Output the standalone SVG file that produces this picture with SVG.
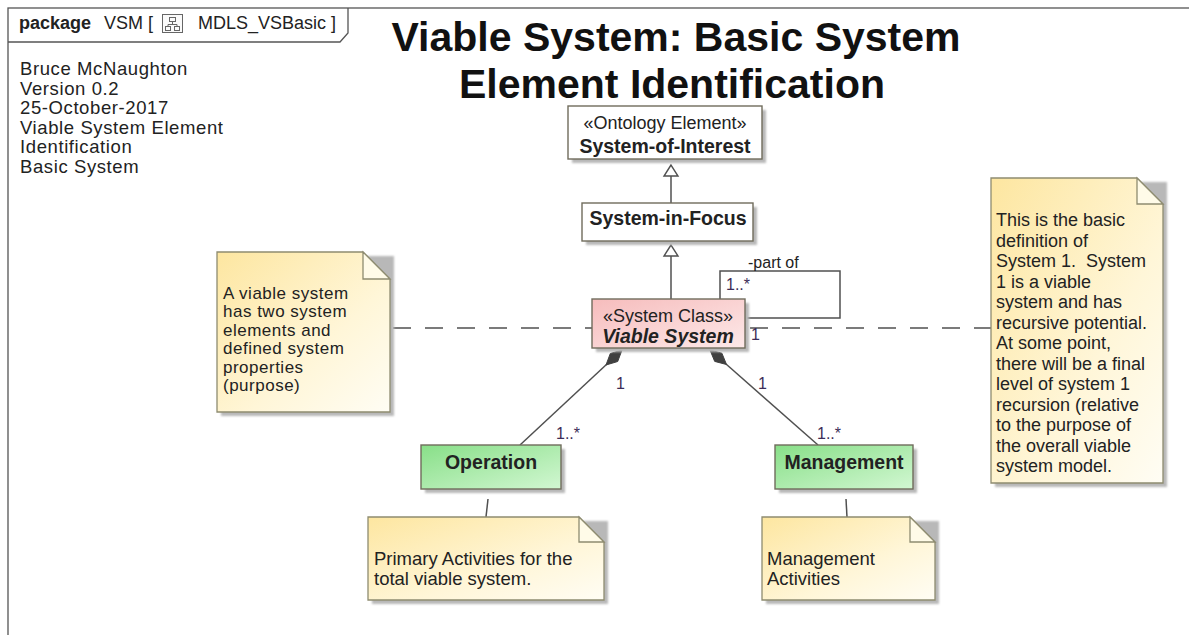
<svg xmlns="http://www.w3.org/2000/svg" width="1189" height="635" viewBox="0 0 1189 635">
  <defs>
    <linearGradient id="gNote" x1="0" y1="0" x2="1" y2="1">
      <stop offset="0" stop-color="#fde6a0"/>
      <stop offset="0.6" stop-color="#fff6d8"/>
      <stop offset="1" stop-color="#fffdf4"/>
    </linearGradient>
    <linearGradient id="gGreen" x1="0" y1="0" x2="1" y2="1">
      <stop offset="0" stop-color="#88df88"/>
      <stop offset="1" stop-color="#d2f7d2"/>
    </linearGradient>
    <linearGradient id="gPink" x1="0" y1="0" x2="1" y2="1">
      <stop offset="0" stop-color="#f6bcbc"/>
      <stop offset="1" stop-color="#fde9e9"/>
    </linearGradient>
    <filter id="soft" x="-10%" y="-10%" width="130%" height="130%">
      <feGaussianBlur stdDeviation="0.8"/>
    </filter>
  </defs>
  <style>
    .frame { fill: none; stroke: #555; stroke-width: 1.3; }
    .shadow { fill: #b8b8b8; filter: url(#soft); }
    .box { stroke: #706c5c; stroke-width: 1.4; }
    .plain { fill: #ffffff; }
    .note { fill: url(#gNote); stroke: #8e8c70; stroke-width: 1.3; }
    .fold { fill: #fffbe8; stroke: #8e8c70; stroke-width: 1.3; }
    .txt { font-family: "Liberation Sans", Arial, sans-serif; fill: #222; }
    .name { font-size: 19.5px; font-weight: bold; text-anchor: middle; }
    .stereo { font-size: 18px; text-anchor: middle; }
    .ntxt { font-size: 18px; }
    .mult { font-family: "Liberation Sans", Arial, sans-serif; font-size: 16px; fill: #3c2d58; }
    .edge { fill: none; stroke: #505050; stroke-width: 1.5; }
    .dash { fill: none; stroke: #505050; stroke-width: 1.4; stroke-dasharray: 18 14; }
    .gen { fill: #ffffff; stroke: #505050; stroke-width: 1.4; }
    .comp { fill: #404040; stroke: #404040; stroke-width: 1; }
  </style>

  <!-- package frame -->
  <g id="frame">
    <rect class="frame" x="8" y="8" width="1200" height="700"/>
    <path class="frame" d="M8,42 H340 L348,33 V8"/>
    <text class="txt" x="19" y="29" font-size="18px" font-weight="bold">package</text>
    <text class="txt" x="104" y="29" font-size="18px">VSM [</text>
    <!-- diagram icon -->
    <g fill="none" stroke="#666" stroke-width="1">
      <rect x="162.5" y="14.5" width="20" height="18" fill="#fafafa"/>
      <rect x="169.5" y="17.5" width="6" height="4"/>
      <rect x="165.5" y="26.5" width="5" height="4"/>
      <rect x="174.5" y="26.5" width="5" height="4"/>
      <path d="M172.5,21.5 V24.5 M168,24.5 H177 M168,24.5 V26.5 M177,24.5 V26.5"/>
    </g>
    <text class="txt" x="198" y="29" font-size="18px">MDLS_VSBasic ]</text>
  </g>

  <!-- author / version block -->
  <g id="info" class="txt" font-size="18.5px" letter-spacing="0.6">
    <text x="20" y="75">Bruce McNaughton</text>
    <text x="20" y="94.6">Version 0.2</text>
    <text x="20" y="114.2">25-October-2017</text>
    <text x="20" y="133.8">Viable System Element</text>
    <text x="20" y="153.4">Identification</text>
    <text x="20" y="173">Basic System</text>
  </g>

  <!-- title -->
  <g id="title" class="txt" font-size="41px" font-weight="bold" text-anchor="middle" style="fill:#111">
    <text x="676" y="51">Viable System: Basic System</text>
    <text x="672" y="98">Element Identification</text>
  </g>

  <!-- connectors -->
  <g id="connectors">
    <!-- generalizations -->
    <line class="edge" x1="671" y1="176" x2="671" y2="203"/>
    <polygon class="gen" points="671,165 664,176 678,176"/>
    <line class="edge" x1="671" y1="256" x2="671" y2="299"/>
    <polygon class="gen" points="671,245 664,256 678,256"/>
    <!-- self association "part of" -->
    <path class="edge" d="M720,299 V271 H840 V318 H745"/>
    <!-- note anchors -->
    <line class="dash" x1="393" y1="328" x2="592" y2="328"/>
    <line class="dash" x1="750" y1="328" x2="991" y2="328"/>
    <line class="edge" x1="488" y1="499" x2="486" y2="517"/>
    <line class="edge" x1="846" y1="499" x2="847" y2="517"/>
    <!-- compositions -->
    <line class="edge" x1="607" y1="364" x2="520" y2="445"/>
    <polygon class="comp" points="622,350 617.7,361.5 606,365 610.3,353.5"/>
    <line class="edge" x1="726" y1="364" x2="818" y2="445"/>
    <polygon class="comp" points="710,350 714.7,361.4 726.5,364.5 721.9,353.2"/>
    <!-- multiplicities and role -->
    <text class="mult" x="748" y="268" style="fill:#222">-part of</text>
    <text class="mult" x="726" y="290">1..*</text>
    <text class="mult" x="751" y="340">1</text>
    <text class="mult" x="616" y="389">1</text>
    <text class="mult" x="758" y="389">1</text>
    <text class="mult" x="556" y="439">1..*</text>
    <text class="mult" x="817" y="439">1..*</text>
  </g>

  <!-- classes -->
  <g id="system-of-interest">
    <rect class="shadow" x="572" y="110" width="194" height="53"/>
    <rect class="box plain" x="568" y="106" width="194" height="53"/>
    <text class="txt stereo" x="665" y="129">«Ontology Element»</text>
    <text class="txt name" x="665" y="153">System-of-Interest</text>
  </g>

  <g id="system-in-focus">
    <rect class="shadow" x="586" y="207" width="171" height="38"/>
    <rect class="box plain" x="582" y="203" width="171" height="38"/>
    <text class="txt name" x="668" y="225">System-in-Focus</text>
  </g>

  <g id="viable-system">
    <rect class="shadow" x="596" y="303" width="153" height="49"/>
    <rect class="box" fill="url(#gPink)" x="592" y="299" width="153" height="49"/>
    <text class="txt stereo" x="668" y="322">«System Class»</text>
    <text class="txt name" x="668" y="343" font-style="italic">Viable System</text>
  </g>

  <g id="operation">
    <rect class="shadow" x="425" y="449" width="140" height="44"/>
    <rect class="box" fill="url(#gGreen)" x="421" y="445" width="140" height="44"/>
    <text class="txt name" x="491" y="469">Operation</text>
  </g>

  <g id="management">
    <rect class="shadow" x="779" y="449" width="138" height="44"/>
    <rect class="box" fill="url(#gGreen)" x="775" y="445" width="138" height="44"/>
    <text class="txt name" x="844" y="469">Management</text>
  </g>

  <!-- notes -->
  <g id="note-viable">
    <path class="shadow" d="M221,256 H394 V416 H221 Z"/>
    <path class="note" d="M217,252 H363 L390,279 V412 H217 Z"/>
    <path class="fold" d="M363,252 V279 H390 Z"/>
    <g class="txt" font-size="17px" letter-spacing="0.5">
      <text x="223" y="299">A viable system</text>
      <text x="223" y="317.4">has two system</text>
      <text x="223" y="335.8">elements and</text>
      <text x="223" y="354.2">defined system</text>
      <text x="223" y="372.6">properties</text>
      <text x="223" y="391">(purpose)</text>
    </g>
  </g>

  <g id="note-system1">
    <path class="shadow" d="M995,182 H1167 V487 H995 Z"/>
    <path class="note" d="M991,178 H1137 L1163,204 V483 H991 Z"/>
    <path class="fold" d="M1137,178 V204 H1163 Z"/>
    <g class="txt ntxt">
      <text x="996" y="226">This is the basic</text>
      <text x="996" y="246.5">definition of</text>
      <text x="996" y="267">System 1.&#160; System</text>
      <text x="996" y="287.5">1 is a viable</text>
      <text x="996" y="308">system and has</text>
      <text x="996" y="328.5">recursive potential.</text>
      <text x="996" y="349">At some point,</text>
      <text x="996" y="369.5">there will be a final</text>
      <text x="996" y="390">level of system 1</text>
      <text x="996" y="410.5">recursion (relative</text>
      <text x="996" y="431">to the purpose of</text>
      <text x="996" y="451.5">the overall viable</text>
      <text x="996" y="472">system model.</text>
    </g>
  </g>

  <g id="note-operation">
    <path class="shadow" d="M372,521 H608 V604 H372 Z"/>
    <path class="note" d="M368,517 H579 L604,542 V600 H368 Z"/>
    <path class="fold" d="M579,517 V542 H604 Z"/>
    <g class="txt" font-size="18.5px">
      <text x="374" y="565">Primary Activities for the</text>
      <text x="374" y="585">total viable system.</text>
    </g>
  </g>

  <g id="note-management">
    <path class="shadow" d="M766,521 H939 V604 H766 Z"/>
    <path class="note" d="M762,517 H910 L935,542 V600 H762 Z"/>
    <path class="fold" d="M910,517 V542 H935 Z"/>
    <g class="txt" font-size="18.5px">
      <text x="767" y="565">Management</text>
      <text x="767" y="585">Activities</text>
    </g>
  </g>
</svg>
